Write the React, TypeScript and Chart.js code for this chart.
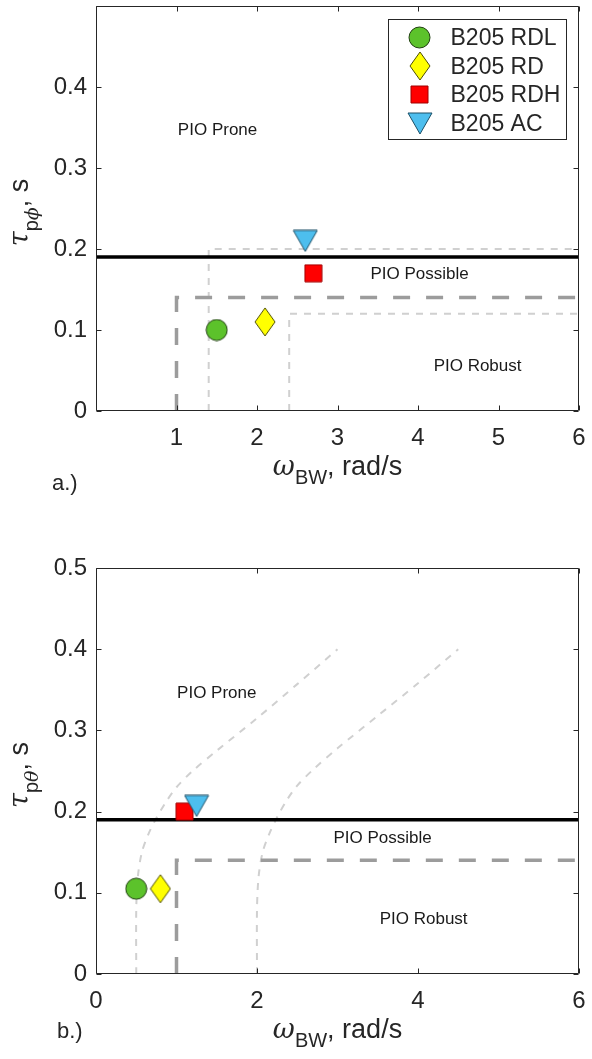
import { useEffect, useRef } from 'react';
import { Chart, registerables } from 'chart.js';

Chart.register(...registerables);

// Flight configurations and their bandwidth / phase-delay results
const configNames = ['B205 RDL', 'B205 RD', 'B205 RDH', 'B205 AC'];
const rollBandwidth = [1.5, 2.1, 2.7, 2.6];
const rollDelay = [0.1, 0.11, 0.17, 0.21];
const pitchBandwidth = [0.5, 0.8, 1.1, 1.25];
const pitchDelay = [0.105, 0.105, 0.2, 0.207];

// PIO boundaries
const possibleLimit = 0.19;
const bandwidthRange = [0, 6];
const robustX = [1, 1, 6];
const robustY = [0, 0.14, 0.14];
const rollAltAX = [1.4, 1.4, 6];
const rollAltAY = [0, 0.2, 0.2];
const rollAltBX = [2.4, 2.4, 6];
const rollAltBY = [0, 0.12, 0.12];
const pitchCurveAX = [0.5, 0.5, 0.52, 0.57, 0.65, 0.75, 0.87, 1.0, 1.2, 1.5, 2.0, 2.5, 3.0];
const pitchCurveAY = [0, 0.08, 0.12, 0.15, 0.172, 0.192, 0.212, 0.23, 0.25, 0.275, 0.315, 0.357, 0.4];
const pitchCurveBX = [2, 2, 2.02, 2.07, 2.15, 2.25, 2.37, 2.5, 2.7, 3.0, 3.5, 4.0, 4.5];
const pitchCurveBY = [0, 0.08, 0.12, 0.15, 0.172, 0.193, 0.214, 0.232, 0.252, 0.278, 0.318, 0.358, 0.4];

// Axis ticks
const rollXTicks = [0, 1, 2, 3, 4, 5, 6];
const rollXLabels = [null, '1', '2', '3', '4', '5', '6'];
const pitchXTicks = [0, 2, 4, 6];
const pitchXLabels = ['0', '2', '4', '6'];
const yTicks = [0, 0.1, 0.2, 0.3, 0.4, 0.5];
const rollYLabels = ['0', '0.1', '0.2', '0.3', '0.4', null];
const pitchYLabels = ['0', '0.1', '0.2', '0.3', '0.4', '0.5'];

// Region annotations
const regionNames = ['PIO Prone', 'PIO Possible', 'PIO Robust'];
const rollRegionX = [1.51, 4.02, 4.74];
const rollRegionY = [0.347, 0.169, 0.055];
const pitchRegionX = [1.5, 3.56, 4.07];
const pitchRegionY = [0.346, 0.167, 0.067];

const SANS = '"Liberation Sans", Arial, Helvetica, sans-serif';
const GREEK = '"DejaVu Serif", "Liberation Serif", serif';
const INK = '#262626';

type Seg = { text: string; font: string; sub?: boolean };

function makeMarker(kind: number): HTMLCanvasElement {
  const c = document.createElement('canvas');
  const ctx = c.getContext('2d')!;
  if (kind === 0) {
    c.width = 23; c.height = 23;
  } else if (kind === 1) {
    c.width = 22; c.height = 30;
  } else if (kind === 2) {
    c.width = 19; c.height = 19;
  } else {
    c.width = 26; c.height = 23;
  }
  ctx.lineWidth = 1;
  ctx.beginPath();
  if (kind === 0) {
    ctx.arc(11.5, 11.5, 10.5, 0, Math.PI * 2);
    ctx.fillStyle = '#5cc22b';
    ctx.strokeStyle = '#1f3d10';
  } else if (kind === 1) {
    ctx.moveTo(11, 1); ctx.lineTo(21, 15); ctx.lineTo(11, 29); ctx.lineTo(1, 15); ctx.closePath();
    ctx.fillStyle = '#ffff00';
    ctx.strokeStyle = '#4d4d00';
  } else if (kind === 2) {
    ctx.rect(1, 1, 17, 17);
    ctx.fillStyle = '#ff0000';
    ctx.strokeStyle = '#a00000';
  } else {
    ctx.moveTo(1, 1); ctx.lineTo(25, 1); ctx.lineTo(13, 22); ctx.closePath();
    ctx.fillStyle = '#4dbeee';
    ctx.strokeStyle = '#1c4f66';
  }
  ctx.fill();
  ctx.stroke();
  return c;
}

function pts(xs: number[], ys: number[]) {
  return xs.map((x, i) => ({ x, y: ys[i] }));
}

function segsWidth(ctx: CanvasRenderingContext2D, segs: Seg[]) {
  let w = 0;
  for (const s of segs) { ctx.font = s.font; w += ctx.measureText(s.text).width; }
  return w;
}

function drawSegs(ctx: CanvasRenderingContext2D, segs: Seg[], x0: number, base: number, shift: number) {
  let x = x0;
  for (const s of segs) {
    ctx.font = s.font;
    ctx.fillText(s.text, x, base + (s.sub ? shift : 0));
    x += ctx.measureText(s.text).width;
  }
}

type PanelSpec = {
  xTicks: number[];
  yTicks: number[];
  regionX: number[];
  regionY: number[];
  panel: string;
  panelX: number;
  panelBase: number;
  xTitle: Seg[];
  xTitleBase: number;
  yTitle: Seg[];
  yTitleBase: number;
  legend: boolean;
  markers: HTMLCanvasElement[];
};

function panelDecor(spec: PanelSpec) {
  return {
    id: 'panelDecor',
    afterDraw(chart: any) {
      const ctx: CanvasRenderingContext2D = chart.ctx;
      const { left, right, top, bottom } = chart.chartArea;
      const xs = chart.scales.x;
      const ys = chart.scales.y;
      ctx.save();

      // region annotations
      ctx.fillStyle = '#1a1a1a';
      ctx.font = `17px ${SANS}`;
      ctx.textAlign = 'center';
      ctx.textBaseline = 'middle';
      regionNames.forEach((name, i) => {
        ctx.fillText(name, xs.getPixelForValue(spec.regionX[i]), ys.getPixelForValue(spec.regionY[i]));
      });

      // axes box with inward ticks
      ctx.strokeStyle = INK;
      ctx.lineWidth = 1;
      const L = Math.round(left) + 0.5;
      const R = Math.round(right) - 0.5;
      const T = Math.round(top) + 0.5;
      const B = Math.round(bottom) - 0.5;
      ctx.beginPath();
      ctx.rect(L, T, R - L, B - T);
      for (const v of spec.xTicks) {
        const p = Math.round(xs.getPixelForValue(v)) + 0.5;
        ctx.moveTo(p, B); ctx.lineTo(p, B - 5);
        ctx.moveTo(p, T); ctx.lineTo(p, T + 5);
      }
      for (const v of spec.yTicks) {
        const p = Math.round(ys.getPixelForValue(v)) + 0.5;
        ctx.moveTo(L, p); ctx.lineTo(L + 5, p);
        ctx.moveTo(R, p); ctx.lineTo(R - 5, p);
      }
      ctx.stroke();

      // legend
      if (spec.legend) {
        const bw = 178, bh = 120;
        const bx = Math.round(right - 13 - bw) + 0.5;
        const by = Math.round(top + 13) + 0.5;
        ctx.fillStyle = '#ffffff';
        ctx.fillRect(bx, by, bw, bh);
        ctx.strokeStyle = INK;
        ctx.strokeRect(bx, by, bw, bh);
        ctx.textAlign = 'left';
        ctx.textBaseline = 'middle';
        ctx.font = `23px ${SANS}`;
        ctx.fillStyle = INK;
        configNames.forEach((name, i) => {
          const cy = by + 18 + i * 28.7;
          const img = spec.markers[i];
          ctx.drawImage(img, Math.round(bx + 31 - img.width / 2), Math.round(cy - img.height / 2));
          ctx.fillText(name, bx + 62, cy + 1);
        });
      }

      // axis titles
      ctx.fillStyle = INK;
      ctx.textAlign = 'left';
      ctx.textBaseline = 'alphabetic';
      const xw = segsWidth(ctx, spec.xTitle);
      drawSegs(ctx, spec.xTitle, (left + right) / 2 - xw / 2, spec.xTitleBase, 9);

      const yw = segsWidth(ctx, spec.yTitle);
      ctx.save();
      ctx.translate(spec.yTitleBase, (top + bottom) / 2 + 4);
      ctx.rotate(-Math.PI / 2);
      drawSegs(ctx, spec.yTitle, -yw / 2, 0, 10);
      ctx.restore();

      // panel letter
      ctx.font = `22px ${SANS}`;
      ctx.fillText(spec.panel, spec.panelX, spec.panelBase);

      ctx.restore();
    },
  };
}

function buildConfig(opts: {
  bw: number[];
  delay: number[];
  guides: any[];
  xTicks: number[];
  xLabels: (string | null)[];
  yLabels: (string | null)[];
  padTop: number;
  xHeight: number;
  spec: PanelSpec;
}) {
  const tickFont = { family: SANS, size: 24 };
  const drawOrder = [3, 2, 1, 0];
  const markerSets = drawOrder.map((i) => ({
    label: configNames[i],
    data: [{ x: opts.bw[i], y: opts.delay[i] }],
    pointStyle: opts.spec.markers[i],
    pointRadius: 10,
    pointHoverRadius: 10,
    showLine: false,
  }));
  const limitSet = {
    label: 'limit',
    data: pts(bandwidthRange, [possibleLimit, possibleLimit]),
    showLine: true,
    pointRadius: 0,
    borderColor: '#000000',
    borderWidth: 3.5,
  };
  return {
    type: 'scatter' as const,
    data: { datasets: [...markerSets, limitSet, ...opts.guides] },
    plugins: [panelDecor(opts.spec)],
    options: {
      responsive: false,
      animation: false as const,
      devicePixelRatio: 1,
      events: [],
      layout: {
        autoPadding: false,
        padding: { top: opts.padTop, right: 13, left: 0, bottom: 0 },
      },
      plugins: { legend: { display: false }, tooltip: { enabled: false } },
      scales: {
        x: {
          type: 'linear' as const,
          min: 0,
          max: 6,
          grid: { display: false, drawTicks: false },
          border: { display: false },
          afterBuildTicks: (s: any) => { s.ticks = opts.xTicks.map((v) => ({ value: v })); },
          afterFit: (s: any) => {
            s.height = opts.xHeight;
            s.paddingLeft = 0;
            s.paddingRight = 0;
          },
          ticks: {
            autoSkip: false,
            maxRotation: 0,
            padding: 13,
            color: INK,
            font: tickFont,
            callback: (_v: any, i: number) => opts.xLabels[i],
          },
        },
        y: {
          type: 'linear' as const,
          min: 0,
          max: 0.5,
          grid: { display: false, drawTicks: false },
          border: { display: false },
          afterBuildTicks: (s: any) => { s.ticks = yTicks.map((v) => ({ value: v })); },
          afterFit: (s: any) => {
            s.width = 96;
            s.paddingTop = 0;
            s.paddingBottom = 0;
          },
          ticks: {
            autoSkip: false,
            padding: 9,
            color: INK,
            font: tickFont,
            callback: (_v: any, i: number) => opts.yLabels[i],
          },
        },
      },
    },
  };
}

function darkGuide(xs: number[], ys: number[]) {
  return {
    label: 'robust',
    data: pts(xs, ys),
    showLine: true,
    pointRadius: 0,
    borderColor: '#9c9c9c',
    borderWidth: 3.5,
    borderDash: [17, 16],
  };
}

function lightGuide(xs: number[], ys: number[], tension: number) {
  return {
    label: 'alt',
    data: pts(xs, ys),
    showLine: true,
    pointRadius: 0,
    borderColor: '#d0d0d0',
    borderWidth: 2,
    borderDash: [7, 7],
    tension,
  };
}

const xTitleSegs: Seg[] = [
  { text: 'ω', font: `italic 27px ${GREEK}` },
  { text: 'BW', font: `20px ${SANS}`, sub: true },
  { text: ', rad/s', font: `27px ${SANS}` },
];

function RollChart() {
  const ref = useRef<HTMLCanvasElement>(null);
  useEffect(() => {
    const markers = [0, 1, 2, 3].map(makeMarker);
    const cfg = buildConfig({
      bw: rollBandwidth,
      delay: rollDelay,
      guides: [
        darkGuide(robustX, robustY),
        lightGuide(rollAltAX, rollAltAY, 0),
        lightGuide(rollAltBX, rollAltBY, 0),
      ],
      xTicks: rollXTicks,
      xLabels: rollXLabels,
      yLabels: rollYLabels,
      padTop: 6,
      xHeight: 99,
      spec: {
        xTicks: rollXTicks,
        yTicks,
        regionX: rollRegionX,
        regionY: rollRegionY,
        panel: 'a.)',
        panelX: 52,
        panelBase: 490,
        xTitle: xTitleSegs,
        xTitleBase: 475,
        yTitle: [
          { text: 'τ', font: `italic 27px ${GREEK}` },
          { text: 'p', font: `20px ${SANS}`, sub: true },
          { text: 'ϕ', font: `italic 19px ${GREEK}`, sub: true },
          { text: ', s', font: `27px ${SANS}` },
        ],
        yTitleBase: 28,
        legend: true,
        markers,
      },
    });
    const chart = new Chart(ref.current!, cfg as any);
    return () => chart.destroy();
  }, []);
  return (
    <canvas
      ref={ref}
      width={592}
      height={510}
      style={{ position: 'absolute', left: 0, top: 0, width: 592, height: 510 }}
    />
  );
}

function PitchChart() {
  const ref = useRef<HTMLCanvasElement>(null);
  useEffect(() => {
    const markers = [0, 1, 2, 3].map(makeMarker);
    const cfg = buildConfig({
      bw: pitchBandwidth,
      delay: pitchDelay,
      guides: [
        darkGuide(robustX, robustY),
        lightGuide(pitchCurveAX, pitchCurveAY, 0.3),
        lightGuide(pitchCurveBX, pitchCurveBY, 0.3),
      ],
      xTicks: pitchXTicks,
      xLabels: pitchXLabels,
      yLabels: pitchYLabels,
      padTop: 58,
      xHeight: 85,
      spec: {
        xTicks: pitchXTicks,
        yTicks,
        regionX: pitchRegionX,
        regionY: pitchRegionY,
        panel: 'b.)',
        panelX: 57,
        panelBase: 528,
        xTitle: xTitleSegs,
        xTitleBase: 528,
        yTitle: [
          { text: 'τ', font: `italic 27px ${GREEK}` },
          { text: 'p', font: `20px ${SANS}`, sub: true },
          { text: 'θ', font: `italic 19px ${GREEK}`, sub: true },
          { text: ', s', font: `27px ${SANS}` },
        ],
        yTitleBase: 28,
        legend: false,
        markers,
      },
    });
    const chart = new Chart(ref.current!, cfg as any);
    return () => chart.destroy();
  }, []);
  return (
    <canvas
      ref={ref}
      width={592}
      height={549}
      style={{ position: 'absolute', left: 0, top: 510, width: 592, height: 549 }}
    />
  );
}

export default function App() {
  return (
    <div
      style={{
        position: 'absolute',
        left: 0,
        top: 0,
        width: 592,
        height: 1059,
        background: '#ffffff',
        overflow: 'hidden',
      }}
    >
      <RollChart />
      <PitchChart />
    </div>
  );
}
